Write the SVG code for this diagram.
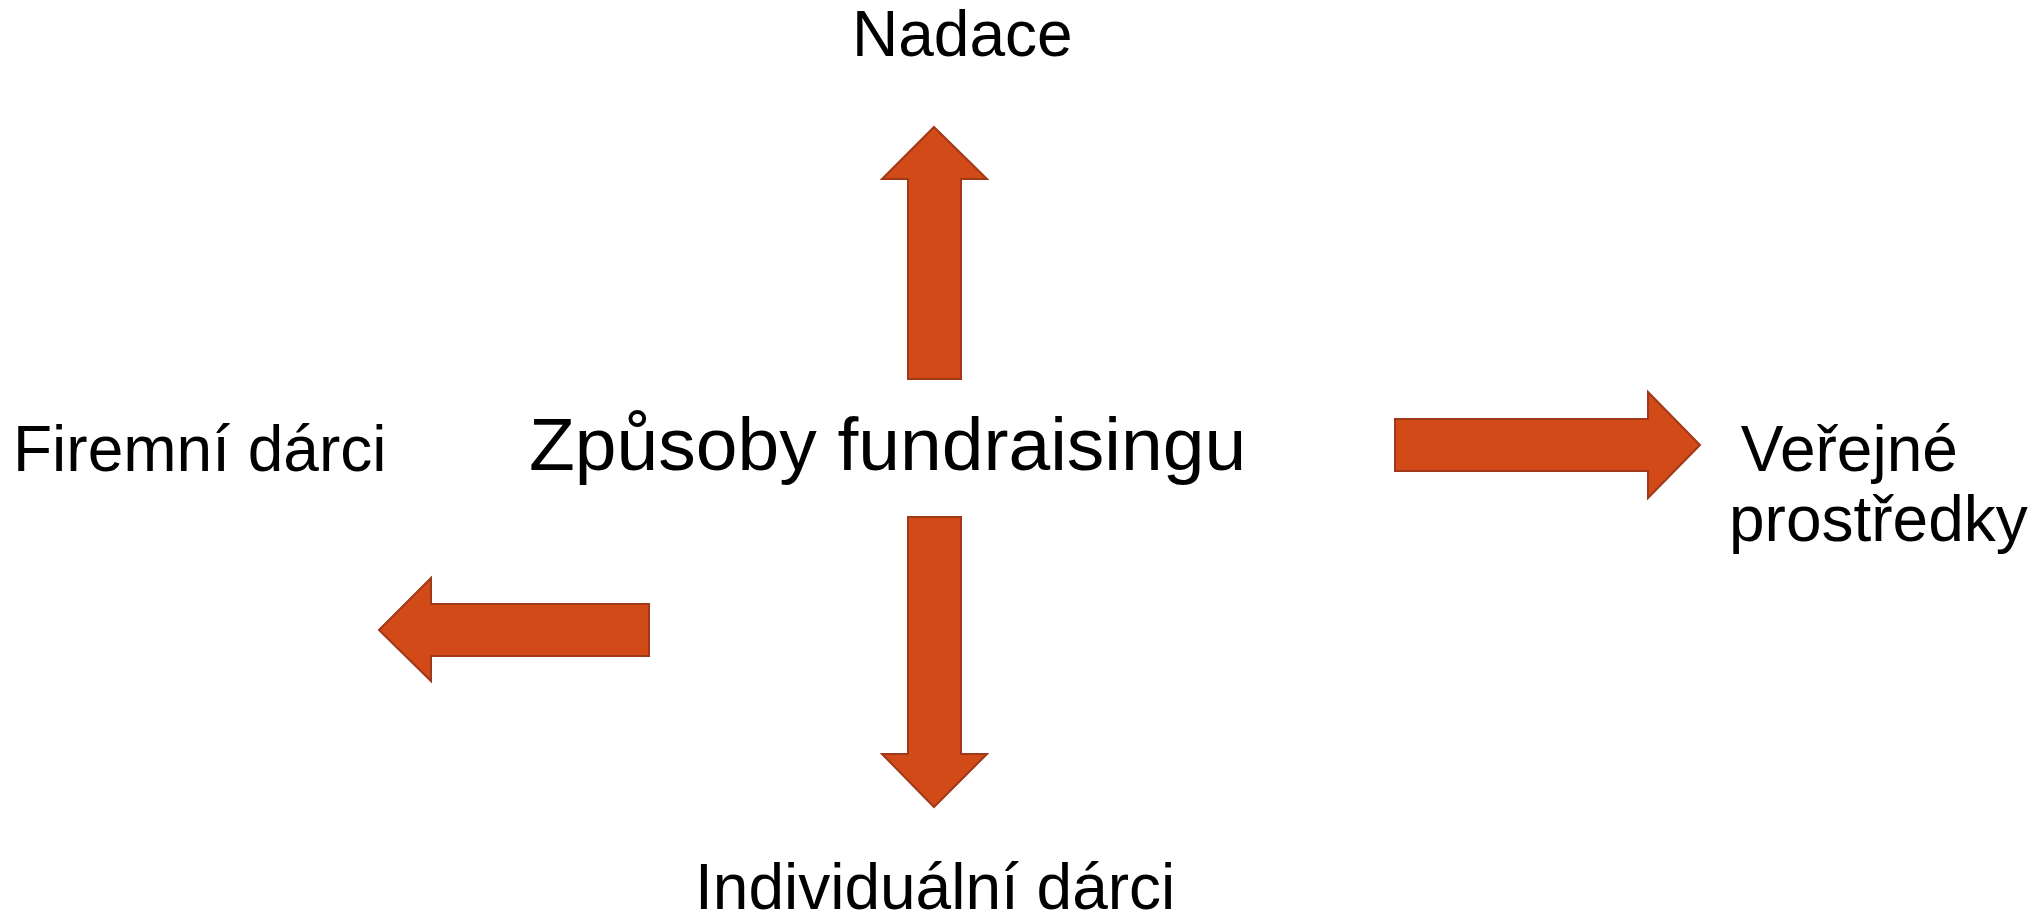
<svg xmlns="http://www.w3.org/2000/svg" width="2043" height="922" viewBox="0 0 2043 922">
<style>
.arrow{fill:#D24A18;stroke:#A0391A;stroke-width:2;stroke-linejoin:miter}
.lbl{font-family:"Liberation Sans",Arial,sans-serif;font-size:64px;fill:#000}
.title{font-family:"Liberation Sans",Arial,sans-serif;font-size:75px;fill:#000}
</style>
<rect width="2043" height="922" fill="#fff"/>
<g id="center"><text class="title" x="529" y="470" xml:space="preserve">Způsoby fundraisingu</text></g>
<g id="nadace"><text class="lbl" x="852" y="56">Nadace</text></g>
<g id="individualni"><text class="lbl" x="695" y="909">Individuální dárci</text></g>
<g id="firemni"><text class="lbl" x="13" y="471">Firemní dárci</text></g>
<g id="verejne"><text class="lbl" x="1723" y="471" xml:space="preserve"> Veřejné</text><text class="lbl" x="1729" y="541">prostředky</text></g>
<g id="connectors">
<polygon class="arrow" points="934,127 987,179 961,179 961,379 908,379 908,179 882,179"/>
<polygon class="arrow" points="908,517 961,517 961,754 987,754 934,807 882,754 908,754"/>
<polygon class="arrow" points="1395,419 1648,419 1648,392 1700,445 1648,498 1648,471 1395,471"/>
<polygon class="arrow" points="379,630 431,578 431,604 649,604 649,656 431,656 431,681"/>
</g>
</svg>
